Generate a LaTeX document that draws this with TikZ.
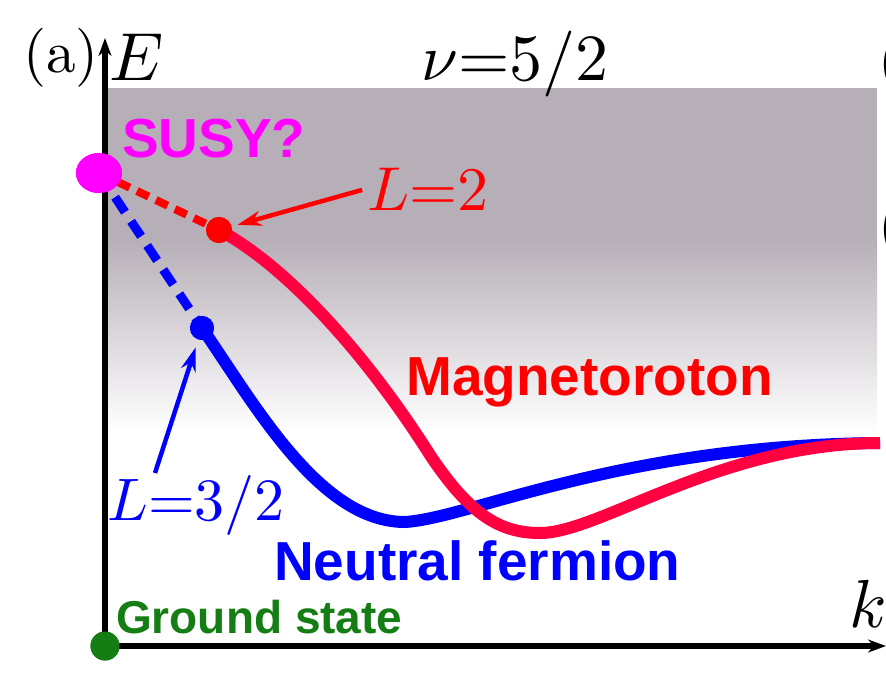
\documentclass[tikz,border=0pt]{standalone}
\usepackage{fontspec}
\newfontfamily\lab{Liberation Sans}
\usetikzlibrary{arrows.meta,shapes.geometric}
\definecolor{bggray}{RGB}{183,175,184}
\definecolor{crv}{RGB}{255,0,64}
\definecolor{gsgreen}{RGB}{20,125,20}
\definecolor{mag}{RGB}{255,0,255}
\begin{document}
\begin{tikzpicture}[x=1pt,y=-1pt,
  lbl/.style={font=\lab\bfseries\fontsize{55}{60}\selectfont, inner sep=0pt, anchor=base west},
  mth/.style={inner sep=0pt, anchor=base west, font=\fontsize{10}{12}\selectfont},
  axisline/.style={line width=5.5pt, -{Stealth[length=18pt,width=13pt]}},
  dot/.style={circle, inner sep=0pt},
  pointer/.style={line width=4.5pt, -{Stealth[length=24pt,width=15pt]}},
  curve/.style={line width=12pt}]
\useasboundingbox (0,0) rectangle (886,686);
\fill[white] (0,0) rectangle (886,686);
% background
\fill[bggray] (108,88) rectangle (877,240);
\shade[top color=bggray, bottom color=white] (108,239.5) rectangle (877,432);
% nodes
\node[ellipse, fill=mag, minimum width=46pt, minimum height=40pt, inner sep=0pt] (susy) at (99,173) {};
\node[dot, fill=red, minimum size=26pt] (r2) at (219,230) {};
\node[dot, fill=blue, minimum size=24pt] (b32) at (202,328) {};
\node[dot, fill=gsgreen, minimum size=29pt] (gs) at (105,646) {};
\coordinate (etip) at (105,38);
\coordinate (ktip) at (886,646);
\coordinate (kend) at (880,443);
\coordinate (a32) at (155,473);
% axes
\draw[axisline] (gs.center) -- (etip);
\draw[axisline] (gs.center) -- (ktip);
% dashed branches
\draw[red, line width=8pt, dash pattern=on 13pt off 8pt] (susy.center) -- (r2.center);
\draw[blue, line width=9pt, dash pattern=on 18pt off 11pt] (susy.center) -- (b32.center);
% curves
\draw[blue, curve] (b32.center) .. controls (255,405) and (320,522) .. (405,522)
  .. controls (470,518) and (620,445) .. (kend);
\draw[crv, curve] (r2.center) .. controls (290,268) and (370,360) .. (430,455)
  .. controls (470,515) and (500,533) .. (540,533)
  .. controls (600,533) and (720,443) .. (kend);
% redraw dots on top
\node[ellipse, fill=mag, minimum width=46pt, minimum height=40pt, inner sep=0pt] at (susy) {};
\node[dot, fill=red, minimum size=26pt] at (r2) {};
\node[dot, fill=blue, minimum size=24pt] at (b32) {};
\node[dot, fill=gsgreen, minimum size=29pt] at (gs) {};
% labels
\node[lbl, text=mag] (susyl) at (122,157) {SUSY?};
\node[lbl, text=red] (magl) at (406,395) {Magnetoroton};
\node[lbl, text=blue] (nfl) at (274,580) {Neutral fermion};
\node[lbl, text=gsgreen, font=\lab\bfseries\fontsize{46}{50}\selectfont] (gsl) at (116,633) {Ground state};
\node[mth, scale=5.9] (alab) at (22,72) {(a)};
\node[mth, scale=6.8] (elab) at (108,80) {$E$};
\node[mth, scale=6.6] (nu) at (420,80) {$\nu{=}5/2$};
\node[mth, text=red, scale=6.2] (l2) at (366,210) {$L{=}2$};
\node[mth, text=blue, scale=6.0] (l32) at (106,520) {$L{=}3/2$};
\node[mth, scale=6.8] (klab) at (848,627) {$k$};
\node[mth, scale=5.9] (pb) at (877,79) {(};
\node[mth, scale=5.9] (pc) at (877,244) {(};
% pointers
\draw[red, pointer, shorten <=4pt, shorten >=6pt] (l2.west) -- (r2);
\draw[blue, pointer, shorten >=8pt] (a32) -- (b32);
\end{tikzpicture}
\end{document}
